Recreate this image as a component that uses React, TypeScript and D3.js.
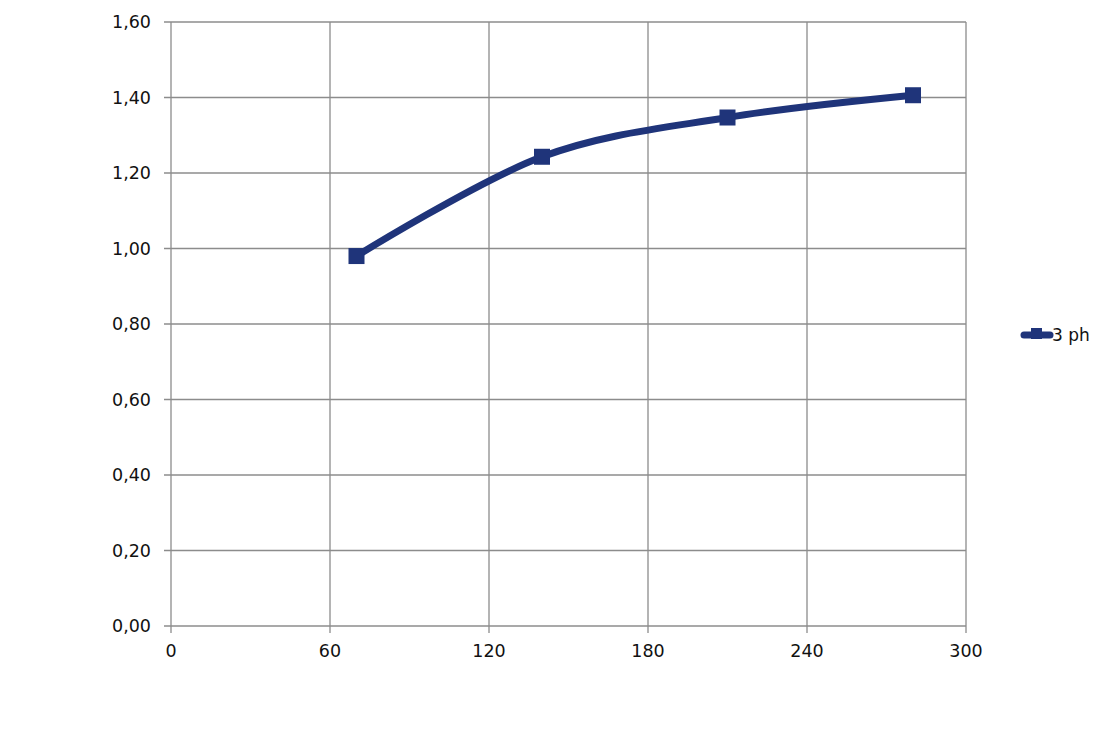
import React from "react";
import * as d3 from "d3";

const xValues = [70, 140, 210, 280];
const yValues = [0.98, 1.243, 1.347, 1.406];
const xTicks = [0, 60, 120, 180, 240, 300];
const yTicks = [0, 0.2, 0.4, 0.6, 0.8, 1.0, 1.2, 1.4, 1.6];
const seriesName = "3 ph";

export default function App() {
  const W = 1110, H = 735;
  const left = 171, right = 966, top = 22, bottom = 626;
  const x = d3.scaleLinear().domain([0, 300]).range([left, right]);
  const y = d3.scaleLinear().domain([0, 1.6]).range([bottom, top]);
  const color = "#1F347A";
  const grid = "#8c8c8c";
  const pts = xValues.map((v, i) => [x(v), y(yValues[i])] as [number, number]);
  const line = d3.line().curve(d3.curveCatmullRom.alpha(0))(pts) || "";
  const fmt = (v: number) => v.toFixed(2).replace(".", ",");
  const font = "'DejaVu Sans', sans-serif";
  return (
    <svg width={W} height={H} style={{ position: "absolute", left: 0, top: 0 }} fontFamily={font}>
      <rect width={W} height={H} fill="#fff" />
      {yTicks.map((t) => (
        <g key={"y" + t}>
          <line x1={left - 7} x2={right} y1={y(t)} y2={y(t)} stroke={grid} strokeWidth={1.3} />
          <text x={151} y={y(t) + 6} textAnchor="end" fontSize={17.5} fill="#111">{fmt(t)}</text>
        </g>
      ))}
      {xTicks.map((t) => (
        <g key={"x" + t}>
          <line x1={x(t)} x2={x(t)} y1={top} y2={bottom + 7} stroke={grid} strokeWidth={1.3} />
          <text x={x(t)} y={657} textAnchor="middle" fontSize={17.5} fill="#111">{t}</text>
        </g>
      ))}
      <path d={line} fill="none" stroke={color} strokeWidth={7} strokeLinecap="round" />
      {pts.map((p, i) => (
        <rect key={i} x={p[0] - 8} y={p[1] - 8} width={16} height={16} fill={color} />
      ))}
      <line x1={1024} x2={1050} y1={335} y2={335} stroke={color} strokeWidth={7} strokeLinecap="round" />
      <rect x={1031} y={328} width={11} height={11} fill={color} />
      <text x={1052} y={341} fontSize={17} fill="#111">{seriesName}</text>
    </svg>
  );
}
